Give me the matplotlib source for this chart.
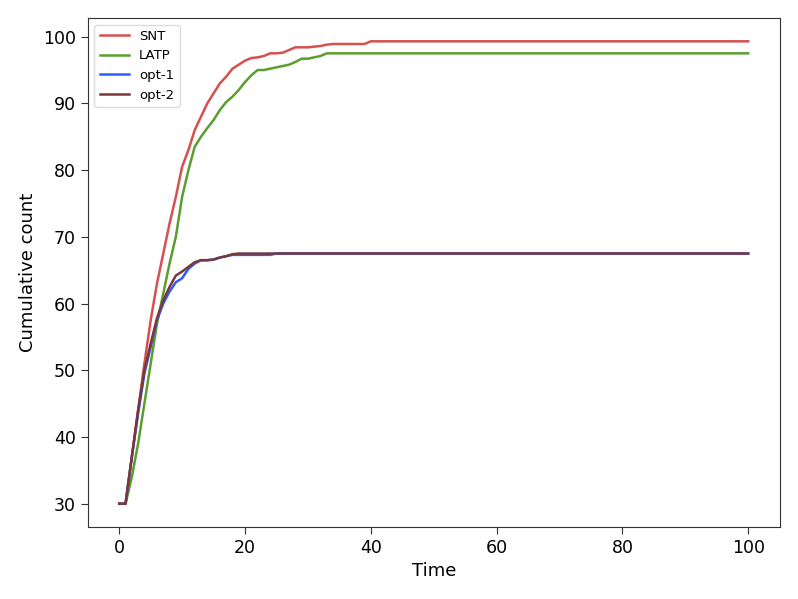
import matplotlib
matplotlib.use('Agg')
import matplotlib.pyplot as plt
import numpy as np

# ---------------- data ----------------
snt_head = [30, 30, 37, 44, 51, 57.5, 63, 67.5, 72, 76, 80.5, 83, 86, 88, 90,
            91.5, 93, 94, 95.2, 95.8, 96.4, 96.8, 96.9, 97.1, 97.5, 97.5, 97.6,
            98.0, 98.4, 98.4, 98.4, 98.5, 98.6, 98.8, 98.9, 98.9, 98.9, 98.9,
            98.9, 98.9, 99.3]
snt_final = 99.3

latp_head = [30, 30, 34, 39, 45, 51, 57, 61.5, 66, 70, 76, 80, 83.5, 85, 86.3,
             87.5, 89, 90.2, 91, 92, 93.2, 94.2, 95, 95, 95.2, 95.4, 95.6, 95.8,
             96.2, 96.7, 96.7, 96.9, 97.1, 97.5]
latp_final = 97.5

opt1_head = [30, 30, 37, 43.5, 49.5, 53.5, 57.5, 60, 61.8, 63.2, 63.8, 65.2,
             66, 66.5, 66.5, 66.6, 66.9, 67.1, 67.3, 67.3, 67.3, 67.3, 67.3,
             67.3, 67.3, 67.5]
opt1_final = 67.5

opt2_head = [30, 30, 37, 44, 50, 54, 57.8, 60.5, 62.5, 64.2, 64.8, 65.5, 66.2,
             66.5, 66.5, 66.6, 66.9, 67.1, 67.4, 67.5]
opt2_final = 67.5

labels = ['SNT', 'LATP', 'opt-1', 'opt-2']
colors = ['#d65050', '#5a9e2e', '#2f5cff', '#7a3838']

time = np.arange(0, 101)


def full_series(head, final):
    return list(head) + [final] * (len(time) - len(head))


series = [full_series(snt_head, snt_final),
          full_series(latp_head, latp_final),
          full_series(opt1_head, opt1_final),
          full_series(opt2_head, opt2_final)]

fig = plt.figure(figsize=(7.98, 5.99), dpi=100)
ax = fig.add_axes([0.110, 0.120, 0.867, 0.850])

for y, lab, c in zip(series, labels, colors):
    ax.plot(time, y, color=c, label=lab, linewidth=1.8)

ax.set_xlim(-5, 105)
ax.set_ylim(26.5, 102.8)
ax.set_xticks([0, 20, 40, 60, 80, 100])
ax.set_yticks([30, 40, 50, 60, 70, 80, 90, 100])
ax.tick_params(labelsize=12.5, length=5, color='#333333')
ax.set_xlabel('Time', fontsize=13)
ax.set_ylabel('Cumulative count', fontsize=13)
for sp in ax.spines.values():
    sp.set_color('#333333')

ax.legend(loc='upper left', fontsize=9.5, handlelength=2.2, framealpha=1,
          edgecolor='#dddddd')

fig.savefig('out.png', dpi=100)
